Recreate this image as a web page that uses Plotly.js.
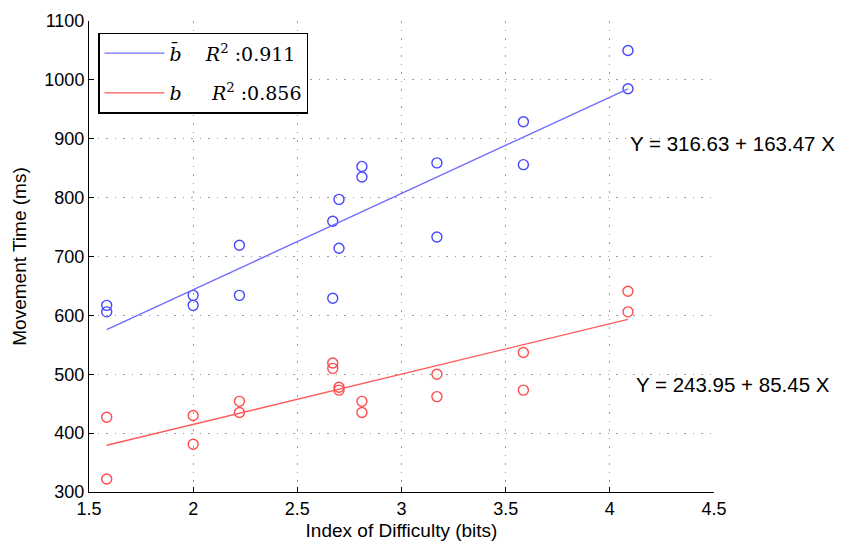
<!DOCTYPE html>
<html>
<head>
<meta charset="utf-8">
<script src="https://cdn.plot.ly/plotly-3.0.1.min.js"></script>
<style>html,body{margin:0;padding:0;background:#fff;}#chart{width:845px;height:544px;}</style>
</head>
<body>
<div id="chart"></div>
<script>
// Index of difficulty (bits) for each measured point (two per condition)
const idBits = [1.585,1.585, 2.0,2.0, 2.222,2.222, 2.67,2.67, 2.70,2.70, 2.81,2.81, 3.17,3.17, 3.585,3.585, 4.087,4.087];
// Movement time (ms), b-bar series (blue)
const mtBbar = [617,606, 634,617, 719,634, 760,629, 797,714, 853,835, 859,733, 929,856, 1050,985];
// Movement time (ms), b series (red)
const mtB = [427,322, 430,381, 454,435, 519,510, 478,473, 454,435, 500,462, 537,473, 641,606];
// Regression fits: Y = intercept + slope * X
const fitNames = ['b\u0304', 'b'];
const fitIntercept = [316.63, 243.95];
const fitSlope = [163.47, 85.45];
const rSquared = ['0.911', '0.856'];
const fitXRange = [1.585, 4.087];
// Axis ticks
const xTicks = [1.5, 2, 2.5, 3, 3.5, 4, 4.5];
const xTickText = ['1.5','2','2.5','3','3.5','4','4.5'];
const yTicks = [300,400,500,600,700,800,900,1000,1100];

const blueMarker = 'rgb(70,70,255)';
const blueLine = 'rgb(110,110,255)';
const redMarker = 'rgb(255,75,75)';
const redLine = 'rgb(255,90,90)';
const nb = '\u00a0';

function fitY(i) { return fitXRange.map(x => fitIntercept[i] + fitSlope[i] * x); }

const traces = [
  {x: idBits, y: mtBbar, type: 'scatter', mode: 'markers', showlegend: false,
   marker: {symbol: 'circle-open', size: 10, color: blueMarker, line: {width: 1.4, color: blueMarker}}},
  {x: idBits, y: mtB, type: 'scatter', mode: 'markers', showlegend: false,
   marker: {symbol: 'circle-open', size: 10, color: redMarker, line: {width: 1.4, color: redMarker}}},
  {x: fitXRange, y: fitY(0), type: 'scatter', mode: 'lines', legendgroup: 'g1',
   name: '<i>' + fitNames[0] + '</i>' + nb+nb+nb+nb + '<i>R</i><sup>2</sup>' + nb + ':' + rSquared[0],
   line: {color: blueLine, width: 1.4}},
  {x: fitXRange, y: fitY(1), type: 'scatter', mode: 'lines', legendgroup: 'g2',
   name: '<i>' + fitNames[1] + '</i>' + nb+nb+nb+nb+nb + '<i>R</i><sup>2</sup>' + nb + ':' + rSquared[1],
   line: {color: redLine, width: 1.4}}
];

const sans = 'Liberation Sans, Arial, sans-serif';
const gridDash = '1.5px,7px';
const layout = {
  width: 845, height: 544,
  margin: {l: 89, r: 131, t: 21, b: 52},
  paper_bgcolor: '#fff', plot_bgcolor: '#fff',
  showlegend: true,
  legend: {x: 0.0144, y: 0.975, xanchor: 'left', yanchor: 'top',
    bordercolor: '#000', borderwidth: 1.5, bgcolor: '#fff',
    font: {family: 'DejaVu Serif, serif', size: 19, color: '#000'},
    traceorder: 'grouped', tracegroupgap: 12, itemwidth: 60},
  xaxis: {range: [1.5, 4.5], tickvals: xTicks, ticktext: xTickText,
    showline: true, linecolor: '#000', linewidth: 1, mirror: false,
    ticks: 'inside', ticklen: 5, tickcolor: '#000',
    showgrid: true, gridcolor: '#999999', griddash: gridDash, gridwidth: 1,
    zeroline: false, tickfont: {family: sans, size: 18, color: '#000'},
    title: {text: 'Index of Difficulty (bits)', font: {family: sans, size: 19, color: '#000'}, standoff: 6}},
  yaxis: {range: [300, 1100], tickvals: yTicks,
    showline: true, linecolor: '#000', linewidth: 1, mirror: false,
    ticks: 'inside', ticklen: 5, tickcolor: '#000',
    showgrid: true, gridcolor: '#999999', griddash: gridDash, gridwidth: 1,
    zeroline: false, tickfont: {family: sans, size: 18, color: '#000'},
    title: {text: 'Movement Time (ms)', font: {family: sans, size: 19, color: '#000'}, standoff: 12}},
  annotations: [
    {xref: 'paper', yref: 'paper', x: 0.863, y: 0.740, xanchor: 'left', yanchor: 'middle', showarrow: false,
     text: 'Y = ' + fitIntercept[0].toFixed(2) + ' + ' + fitSlope[0].toFixed(2) + ' X',
     font: {family: sans, size: 20.5, color: '#000'}},
    {xref: 'paper', yref: 'paper', x: 0.872, y: 0.228, xanchor: 'left', yanchor: 'middle', showarrow: false,
     text: 'Y = ' + fitIntercept[1].toFixed(2) + ' + ' + fitSlope[1].toFixed(2) + ' X',
     font: {family: sans, size: 20.5, color: '#000'}}
  ]
};

Plotly.newPlot('chart', traces, layout, {displayModeBar: false, staticPlot: true});
</script>
</body>
</html>
